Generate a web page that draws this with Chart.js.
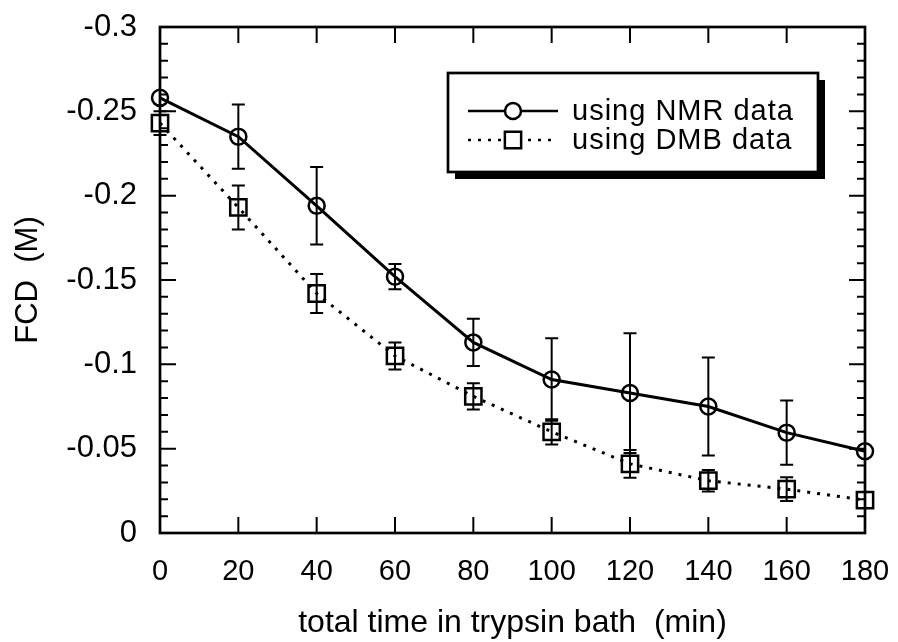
<!DOCTYPE html>
<html>
<head>
<meta charset="utf-8">
<script src="https://cdn.jsdelivr.net/npm/chart.js@4.4.1/dist/chart.umd.min.js"></script>
<style>
  body { margin: 0; background: #fff; }
  canvas { display: block; }
</style>
</head>
<body>
<canvas id="grafico" width="898" height="642"></canvas>
<script>
// tempo no banho de tripsina (min)
var tempos = [0, 20, 40, 60, 80, 100, 120, 140, 160, 180];

// FCD calculada pelos dados de RMN e de DMB
var fcdNMR = [-0.258, -0.235, -0.194, -0.152, -0.113, -0.091, -0.083, -0.075, -0.0595, -0.0485];
var erroNMR = [0, 0.019, 0.023, 0.0075, 0.014, 0.0245, 0.0355, 0.029, 0.019, 0];
var fcdDMB = [-0.243, -0.193, -0.142, -0.105, -0.081, -0.060, -0.041, -0.031, -0.026, -0.0195];
var erroDMB = [0.007, 0.013, 0.0116, 0.008, 0.0078, 0.0075, 0.0082, 0.0064, 0.007, 0];

// marcas dos eixos
var xTicks = [0, 20, 40, 60, 80, 100, 120, 140, 160, 180];
var yTicks = [-0.3, -0.25, -0.2, -0.15, -0.1, -0.05, 0];
var yTickLabels = ['-0.3', '-0.25', '-0.2', '-0.15', '-0.1', '-0.05', '0'];

var fonte = '"Liberation Sans", Arial, Helvetica, sans-serif';

function pontos(valores) {
  return tempos.map(function(t, i) { return { x: t, y: valores[i] }; });
}

// barras de erro verticais com traço nas pontas
var barrasErro = {
  id: 'barrasErro',
  afterDatasetsDraw: function(chart) {
    var ctx = chart.ctx;
    var x = chart.scales.x, y = chart.scales.y;
    ctx.save();
    ctx.strokeStyle = '#000';
    ctx.lineWidth = 2;
    chart.data.datasets.forEach(function(ds) {
      ds.data.forEach(function(p, i) {
        var e = ds.erros[i];
        if (!e) return;
        var px = x.getPixelForValue(p.x);
        var y1 = y.getPixelForValue(p.y - e);
        var y2 = y.getPixelForValue(p.y + e);
        ctx.beginPath();
        ctx.moveTo(px, y1); ctx.lineTo(px, y2);
        ctx.moveTo(px - 6.5, y1); ctx.lineTo(px + 6.5, y1);
        ctx.moveTo(px - 6.5, y2); ctx.lineTo(px + 6.5, y2);
        ctx.stroke();
      });
    });
    ctx.restore();
  }
};

// moldura com marcas para dentro nos quatro lados
var moldura = {
  id: 'moldura',
  afterDraw: function(chart) {
    var ctx = chart.ctx;
    var a = chart.chartArea;
    var x = chart.scales.x, y = chart.scales.y;
    ctx.save();
    ctx.strokeStyle = '#000';
    ctx.lineWidth = 2.7;
    ctx.strokeRect(a.left, a.top, a.right - a.left, a.bottom - a.top);
    ctx.lineWidth = 2;
    ctx.beginPath();
    xTicks.forEach(function(v) {
      var px = x.getPixelForValue(v);
      ctx.moveTo(px, a.bottom); ctx.lineTo(px, a.bottom - 16);
      ctx.moveTo(px, a.top); ctx.lineTo(px, a.top + 16);
    });
    for (var k = 0; k <= 30; k++) {
      var py = y.getPixelForValue(-k / 100);
      var len = (k % 5 === 0) ? 16 : 8;
      ctx.moveTo(a.left, py); ctx.lineTo(a.left + len, py);
      ctx.moveTo(a.right, py); ctx.lineTo(a.right - len, py);
    }
    ctx.stroke();
    ctx.restore();
  }
};

// legenda em caixa com sombra
var legenda = {
  id: 'legenda',
  afterDraw: function(chart) {
    var ctx = chart.ctx;
    var bx = 448, by = 73, bw = 370, bh = 99;
    ctx.save();
    ctx.fillStyle = '#000';
    ctx.fillRect(bx + 7, by + 7, bw, bh);
    ctx.fillStyle = '#fff';
    ctx.fillRect(bx, by, bw, bh);
    ctx.strokeStyle = '#000';
    ctx.lineWidth = 2.7;
    ctx.strokeRect(bx, by, bw, bh);

    chart.data.datasets.forEach(function(ds, i) {
      var ly = 111 + i * 29;
      ctx.strokeStyle = ds.borderColor;
      ctx.lineWidth = 2.5;
      ctx.setLineDash(ds.borderDash || []);
      ctx.beginPath();
      ctx.moveTo(468, ly); ctx.lineTo(558, ly);
      ctx.stroke();
      ctx.setLineDash([]);
      ctx.fillStyle = '#fff';
      ctx.lineWidth = ds.pointBorderWidth;
      Chart.helpers.drawPoint(ctx, {
        pointStyle: ds.pointStyle, radius: ds.pointRadius,
        borderWidth: ds.pointBorderWidth, rotation: 0
      }, 513, ly);
      ctx.fillStyle = '#000';
      ctx.font = '29px ' + fonte;
      ctx.letterSpacing = '1px';
      ctx.textBaseline = 'middle';
      ctx.fillText(ds.label, 572, ly + 1);
    });
    ctx.restore();
  }
};

var myChart = new Chart(document.getElementById('grafico'), {
  type: 'line',
  data: {
    datasets: [{
      label: 'using NMR data',
      data: pontos(fcdNMR),
      erros: erroNMR,
      borderColor: '#000',
      borderWidth: 3,
      pointStyle: 'circle',
      pointRadius: 8,
      pointBorderWidth: 2.5,
      pointBackgroundColor: 'rgba(0,0,0,0)',
      pointBorderColor: '#000',
      tension: 0,
      clip: false
    }, {
      label: 'using DMB data',
      data: pontos(fcdDMB),
      erros: erroDMB,
      borderColor: '#000',
      borderWidth: 3,
      borderDash: [3, 7],
      pointStyle: 'rect',
      pointRadius: 11.5,
      pointBorderWidth: 2.5,
      pointBackgroundColor: 'rgba(0,0,0,0)',
      pointBorderColor: '#000',
      tension: 0,
      clip: false
    }]
  },
  options: {
    responsive: false,
    animation: false,
    layout: { padding: { top: 27, right: 33, left: 0, bottom: 0 } },
    plugins: {
      legend: { display: false },
      tooltip: { enabled: false }
    },
    scales: {
      x: {
        type: 'linear',
        min: 0,
        max: 180,
        grid: { display: false, drawTicks: false },
        border: { display: false },
        afterBuildTicks: function(scale) {
          scale.ticks = xTicks.map(function(v) { return { value: v }; });
        },
        afterFit: function(scale) {
          scale.height = 109;
          scale.paddingLeft = 0;
          scale.paddingRight = 0;
        },
        ticks: {
          color: '#000',
          padding: 22,
          maxRotation: 0,
          font: { family: fonte, size: 29 }
        },
        title: {
          display: true,
          text: 'total time in trypsin bath\u00a0 (min)',
          color: '#000',
          padding: { top: 0, bottom: 0 },
          font: { family: fonte, size: 32 }
        }
      },
      y: {
        type: 'linear',
        reverse: true,
        min: -0.3,
        max: 0,
        grid: { display: false, drawTicks: false },
        border: { display: false },
        afterBuildTicks: function(scale) {
          scale.ticks = yTicks.map(function(v) { return { value: v }; });
        },
        afterFit: function(scale) {
          scale.width = 160;
          scale.paddingTop = 0;
          scale.paddingBottom = 0;
        },
        ticks: {
          color: '#000',
          padding: 23,
          font: { family: fonte, size: 31 },
          callback: function(v, i) { return yTickLabels[i]; }
        },
        title: {
          display: true,
          text: 'FCD\u00a0 (M)',
          color: '#000',
          padding: { top: 10, bottom: 0 },
          font: { family: fonte, size: 31 }
        }
      }
    }
  },
  plugins: [barrasErro, moldura, legenda]
});
</script>
</body>
</html>
